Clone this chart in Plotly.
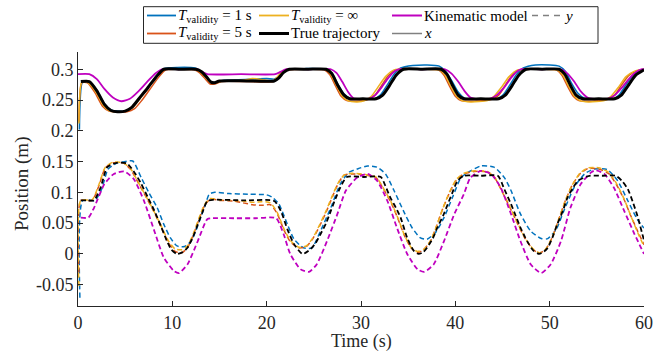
import plotly.graph_objects as go

# ---------------- DATA ----------------
# Upper group: x-component (solid lines)
t_true_x = [0.3, 1.2, 2.0, 2.8, 3.5, 4.2, 5.0, 5.7, 6.5, 7.4,
            8.3, 9.1, 10.8, 12.5, 13.1, 13.6, 14.1, 14.5, 15.0, 17.9,
            20.8, 21.3, 21.8, 22.4, 24.4, 26.3, 26.9, 27.5, 28.2, 28.8,
            30.2, 31.6, 32.3, 33.0, 33.7, 34.5, 36.5, 38.5, 39.1, 39.7,
            40.3, 40.9, 42.7, 44.6, 45.3, 46.0, 46.7, 47.5, 49.2, 51.0,
            51.6, 52.2, 52.8, 53.5, 55.2, 56.9, 57.6, 58.3, 59.1, 60.0]
x_true = [0.280, 0.280, 0.265, 0.243, 0.233, 0.231, 0.232, 0.238, 0.253, 0.270,
          0.288, 0.300, 0.300, 0.300, 0.296, 0.288, 0.279, 0.278, 0.281, 0.281,
          0.281, 0.286, 0.295, 0.300, 0.300, 0.300, 0.293, 0.275, 0.258, 0.252,
          0.252, 0.252, 0.258, 0.273, 0.290, 0.300, 0.300, 0.300, 0.292, 0.274,
          0.258, 0.252, 0.252, 0.252, 0.258, 0.273, 0.290, 0.300, 0.300, 0.300,
          0.292, 0.274, 0.258, 0.252, 0.252, 0.252, 0.258, 0.273, 0.290, 0.299]

t_1s_x = [0.15, 0.5, 1.2, 2.0, 2.8, 3.5, 4.2, 5.0, 5.7, 6.5,
          7.4, 8.3, 9.1, 10.5, 12.4, 13.0, 13.6, 14.1, 14.6, 15.5,
          17.0, 18.5, 20.0, 20.8, 21.3, 21.8, 22.4, 24.0, 26.3, 26.9,
          27.5, 28.2, 28.8, 30.1, 31.4, 32.1, 32.8, 33.5, 34.2, 35.5,
          37.0, 38.3, 38.9, 39.6, 40.3, 41.0, 42.7, 44.4, 45.1, 45.8,
          46.5, 47.2, 48.5, 50.0, 51.0, 51.7, 52.3, 53.0, 53.7, 55.2,
          56.7, 57.4, 58.1, 58.9, 60.0]
x_1s = [0.202, 0.280, 0.280, 0.266, 0.244, 0.234, 0.232, 0.232, 0.237, 0.252,
        0.270, 0.289, 0.301, 0.303, 0.302, 0.297, 0.289, 0.280, 0.279, 0.282,
        0.283, 0.284, 0.285, 0.284, 0.288, 0.296, 0.300, 0.301, 0.300, 0.294,
        0.277, 0.260, 0.253, 0.252, 0.252, 0.259, 0.275, 0.292, 0.302, 0.306,
        0.307, 0.305, 0.298, 0.282, 0.263, 0.253, 0.252, 0.252, 0.259, 0.275,
        0.292, 0.302, 0.307, 0.307, 0.305, 0.296, 0.278, 0.261, 0.253, 0.252,
        0.252, 0.259, 0.275, 0.291, 0.300]

t_5s_x = [0.1, 0.4, 1.0, 1.8, 2.6, 3.3, 4.2, 5.2, 6.0, 6.8,
          7.6, 8.5, 9.3, 10.8, 12.3, 12.9, 13.5, 14.0, 14.5, 15.2,
          18.0, 20.7, 21.2, 21.7, 22.3, 24.2, 26.1, 26.7, 27.3, 27.9,
          28.5, 29.5, 30.8, 31.5, 32.2, 32.9, 33.7, 36.0, 38.2, 38.8,
          39.4, 40.0, 40.6, 41.5, 43.9, 44.6, 45.3, 46.0, 46.8, 48.8,
          50.7, 51.3, 51.9, 52.5, 53.1, 54.0, 56.2, 56.9, 57.6, 58.4,
          59.2, 60.0]
x_5s = [0.215, 0.278, 0.278, 0.262, 0.240, 0.232, 0.231, 0.231, 0.236, 0.250,
        0.267, 0.286, 0.299, 0.300, 0.299, 0.294, 0.284, 0.276, 0.276, 0.280,
        0.280, 0.280, 0.286, 0.295, 0.299, 0.300, 0.299, 0.291, 0.273, 0.256,
        0.249, 0.248, 0.251, 0.258, 0.274, 0.290, 0.299, 0.300, 0.299, 0.290,
        0.272, 0.256, 0.249, 0.248, 0.251, 0.258, 0.274, 0.290, 0.299, 0.300,
        0.299, 0.290, 0.272, 0.256, 0.249, 0.248, 0.251, 0.258, 0.274, 0.290,
        0.297, 0.299]

t_inf_x = [0.1, 0.4, 1.0, 1.9, 2.7, 3.4, 4.2, 5.1, 5.8, 6.6,
           7.5, 8.4, 9.2, 10.8, 12.4, 13.0, 13.6, 14.1, 14.6, 15.3,
           17.5, 18.5, 19.5, 20.6, 21.1, 21.6, 22.2, 24.2, 26.2, 26.8,
           27.4, 28.0, 28.6, 29.6, 30.4, 31.1, 31.8, 32.6, 33.5, 35.9,
           38.3, 38.9, 39.5, 40.1, 40.7, 41.6, 43.4, 44.1, 44.9, 45.7,
           46.6, 48.7, 50.8, 51.4, 52.0, 52.6, 53.2, 54.1, 55.8, 56.5,
           57.3, 58.1, 59.0, 60.0]
x_inf = [0.212, 0.279, 0.279, 0.263, 0.241, 0.232, 0.231, 0.232, 0.238, 0.253,
         0.271, 0.289, 0.300, 0.300, 0.300, 0.295, 0.286, 0.278, 0.278, 0.281,
         0.282, 0.285, 0.283, 0.281, 0.287, 0.296, 0.300, 0.300, 0.300, 0.292,
         0.274, 0.257, 0.249, 0.247, 0.249, 0.256, 0.271, 0.288, 0.299, 0.300,
         0.299, 0.291, 0.273, 0.257, 0.249, 0.247, 0.249, 0.256, 0.271, 0.288,
         0.299, 0.300, 0.299, 0.291, 0.273, 0.257, 0.249, 0.247, 0.249, 0.256,
         0.271, 0.288, 0.297, 0.300]

t_kin_x = [0.0, 1.2, 2.0, 2.8, 3.7, 4.6, 5.5, 6.4, 7.3, 8.2,
           8.9, 10.7, 12.6, 13.1, 13.7, 17.3, 20.9, 21.5, 22.1, 24.4,
           26.8, 27.4, 28.0, 28.6, 29.2, 30.0, 30.8, 31.5, 32.2, 32.9,
           33.6, 34.1, 36.5, 38.9, 39.6, 40.3, 41.0, 41.6, 42.1, 42.9,
           43.6, 44.4, 45.2, 45.9, 46.5, 47.0, 49.1, 51.2, 51.9, 52.6,
           53.3, 54.0, 54.6, 55.4, 56.1, 56.9, 57.7, 58.5, 59.2, 59.8,
           60.0]
x_kin = [0.292, 0.292, 0.284, 0.268, 0.254, 0.248, 0.252, 0.264, 0.279, 0.293,
         0.300, 0.300, 0.300, 0.296, 0.292, 0.292, 0.292, 0.296, 0.300, 0.300,
         0.300, 0.294, 0.280, 0.264, 0.253, 0.252, 0.252, 0.258, 0.271, 0.286,
         0.297, 0.300, 0.300, 0.300, 0.293, 0.280, 0.264, 0.254, 0.252, 0.252,
         0.252, 0.258, 0.271, 0.286, 0.296, 0.300, 0.300, 0.300, 0.293, 0.280,
         0.264, 0.254, 0.252, 0.252, 0.252, 0.258, 0.271, 0.286, 0.296, 0.300,
         0.300]

# Lower group: y-component (dashed lines)
t_true_y = [0.3, 1.0, 1.7, 2.4, 3.1, 4.1, 5.2, 6.0, 6.7, 7.4,
            8.1, 8.8, 9.4, 9.9, 10.5, 11.1, 11.6, 12.2, 12.7, 13.2,
            13.7, 14.3, 17.5, 20.8, 21.5, 22.2, 22.9, 23.8, 24.6, 25.2,
            25.7, 26.3, 26.8, 27.3, 27.8, 28.5, 30.3, 32.1, 32.6, 33.1,
            33.7, 34.2, 34.9, 35.6, 36.1, 36.6, 37.0, 37.6, 38.1, 38.7,
            39.2, 39.7, 40.2, 40.9, 42.7, 44.5, 45.2, 45.9, 46.4, 46.9,
            47.4, 47.8, 48.3, 48.9, 49.4, 49.8, 50.3, 50.8, 51.4, 51.9,
            52.5, 53.0, 54.2, 55.6, 57.0, 57.7, 58.3, 58.8, 59.3, 60.0]
y_true = [0.087, 0.087, 0.087, 0.108, 0.141, 0.148, 0.147, 0.132, 0.114, 0.092,
          0.070, 0.045, 0.022, 0.007, 0.000, 0.003, 0.010, 0.028, 0.048, 0.068,
          0.086, 0.088, 0.087, 0.086, 0.070, 0.040, 0.016, 0.000, 0.007, 0.018,
          0.032, 0.050, 0.070, 0.090, 0.108, 0.125, 0.125, 0.125, 0.110, 0.092,
          0.075, 0.059, 0.026, 0.005, 0.000, 0.003, 0.010, 0.025, 0.043, 0.062,
          0.081, 0.100, 0.118, 0.127, 0.127, 0.127, 0.105, 0.081, 0.062, 0.043,
          0.027, 0.016, 0.005, 0.000, 0.004, 0.010, 0.027, 0.048, 0.070, 0.092,
          0.108, 0.119, 0.127, 0.127, 0.127, 0.118, 0.105, 0.085, 0.062, 0.022]

t_kin_y = [0.3, 1.1, 1.7, 2.8, 3.8, 4.9, 5.9, 7.0, 8.1, 9.1,
           10.2, 10.7, 11.6, 12.7, 13.7, 14.2, 16.5, 18.8, 21.0, 21.8,
           22.5, 23.6, 24.5, 25.3, 26.4, 27.5, 28.4, 29.6, 30.7, 31.7,
           32.8, 33.8, 34.9, 36.0, 36.7, 37.7, 38.8, 39.9, 40.9, 41.6,
           42.7, 43.8, 44.8, 45.9, 46.9, 48.0, 49.1, 50.1, 51.2, 52.2,
           53.3, 54.4, 54.9, 55.8, 56.8, 57.9, 59.0, 60.0]
y_kin = [0.059, 0.059, 0.075, 0.1135, 0.130, 0.134, 0.122, 0.086, 0.037, -0.006,
         -0.028, -0.031, -0.017, 0.021, 0.0565, 0.058, 0.058, 0.058, 0.058, 0.032,
         0.000, -0.025, -0.029, -0.017, 0.021, 0.065, 0.103, 0.124, 0.130, 0.119,
         0.086, 0.043, 0.000, -0.025, -0.029, -0.017, 0.021, 0.065, 0.097, 0.124,
         0.135, 0.130, 0.108, 0.065, 0.021, -0.017, -0.031, -0.017, 0.021, 0.075,
         0.1135, 0.1325, 0.136, 0.130, 0.108, 0.070, 0.032, 0.000]

t_1s_y = [0.2, 0.5, 1.8, 2.5, 3.2, 4.2, 5.0, 5.8, 6.7, 7.5,
          8.4, 9.1, 9.8, 10.5, 11.3, 12.0, 12.5, 13.0, 13.5, 13.9,
          14.4, 16.0, 18.0, 20.0, 20.6, 21.3, 22.2, 22.9, 23.9, 24.8,
          25.7, 26.8, 27.8, 28.7, 29.6, 30.7, 31.7, 32.6, 33.5, 34.5,
          35.4, 36.3, 37.0, 37.9, 38.8, 39.7, 40.6, 41.3, 42.7, 44.1,
          45.2, 45.9, 46.9, 48.0, 49.1, 49.8, 50.7, 51.5, 52.6, 53.7,
          54.7, 56.1, 57.2, 58.3, 59.3, 60.0]
y_1s = [-0.071, 0.087, 0.087, 0.105, 0.138, 0.148, 0.150, 0.151, 0.124, 0.100,
        0.075, 0.048, 0.026, 0.013, 0.012, 0.021, 0.038, 0.059, 0.080, 0.097,
        0.100, 0.098, 0.097, 0.096, 0.092, 0.081, 0.048, 0.024, 0.010, 0.010,
        0.037, 0.075, 0.1135, 0.1325, 0.138, 0.143, 0.141, 0.130, 0.103, 0.070,
        0.043, 0.026, 0.024, 0.035, 0.059, 0.092, 0.124, 0.132, 0.143, 0.141,
        0.124, 0.103, 0.065, 0.037, 0.025, 0.025, 0.040, 0.070, 0.108, 0.130,
        0.138, 0.137, 0.119, 0.086, 0.056, 0.042]

t_5s_y = [0.1, 0.3, 1.5, 2.2, 2.9, 3.7, 4.8, 5.6, 6.4, 7.2,
          8.0, 8.8, 9.6, 10.3, 11.0, 11.6, 12.2, 12.8, 13.4, 14.0,
          15.0, 16.5, 17.5, 18.5, 19.5, 20.4, 21.1, 21.8, 22.5, 23.4,
          24.2, 24.9, 25.6, 26.3, 27.0, 27.6, 28.2, 29.0, 30.5, 31.6,
          32.4, 33.2, 33.9, 34.6, 35.3, 36.0, 36.7, 37.4, 38.0, 38.7,
          39.4, 40.1, 40.9, 42.0, 43.4, 44.2, 45.0, 45.8, 46.6, 47.4,
          48.2, 48.9, 49.6, 50.3, 51.0, 51.7, 52.4, 53.2, 54.1, 55.2,
          56.3, 57.1, 57.9, 58.6, 59.3, 60.0]
y_5s = [-0.030, 0.087, 0.087, 0.110, 0.140, 0.148, 0.148, 0.137, 0.115, 0.093,
        0.070, 0.044, 0.018, 0.004, 0.002, 0.010, 0.030, 0.055, 0.078, 0.089,
        0.087, 0.086, 0.083, 0.080, 0.079, 0.080, 0.066, 0.040, 0.020, 0.010,
        0.012, 0.025, 0.045, 0.068, 0.094, 0.115, 0.128, 0.130, 0.128, 0.124,
        0.105, 0.083, 0.058, 0.030, 0.010, 0.002, 0.008, 0.022, 0.045, 0.075,
        0.100, 0.120, 0.130, 0.134, 0.133, 0.123, 0.100, 0.075, 0.049, 0.025,
        0.008, 0.001, 0.008, 0.028, 0.058, 0.088, 0.112, 0.130, 0.139, 0.138,
        0.130, 0.112, 0.088, 0.062, 0.038, 0.015]

t_inf_y = t_5s_y
y_inf = [-0.052, 0.087, 0.088, 0.112, 0.141, 0.149, 0.148, 0.138, 0.116, 0.094,
         0.071, 0.046, 0.021, 0.008, 0.007, 0.013, 0.032, 0.057, 0.080, 0.090,
         0.088, 0.087, 0.086, 0.084, 0.085, 0.083, 0.068, 0.042, 0.022, 0.011,
         0.013, 0.026, 0.047, 0.070, 0.096, 0.116, 0.128, 0.131, 0.129, 0.125,
         0.106, 0.084, 0.059, 0.031, 0.011, 0.004, 0.008, 0.022, 0.045, 0.075,
         0.101, 0.121, 0.131, 0.135, 0.134, 0.124, 0.101, 0.076, 0.050, 0.026,
         0.009, 0.002, 0.008, 0.028, 0.058, 0.088, 0.112, 0.131, 0.140, 0.140,
         0.132, 0.114, 0.089, 0.062, 0.036, 0.012]

# Axis ticks
x_ticks = [0, 10, 20, 30, 40, 50, 60]
y_ticks = [-0.05, 0, 0.05, 0.1, 0.15, 0.2, 0.25, 0.3]
y_tick_text = ["-0.05", "0", "0.05", "0.1", "0.15", "0.2", "0.25", "0.3"]

# ---------------- STYLE ----------------
C_BLUE = "#0072BD"
C_ORANGE = "#D95319"
C_YELLOW = "#EDB120"
C_MAG = "#BF00BF"
C_BLACK = "#000000"
C_GRAY = "#808080"
AX = "#262626"
FONT = "Liberation Serif, Times New Roman, serif"

W, H = 670, 353
L, R, T, B = 78, 26, 52, 47
PW, PH = W - L - R, H - T - B


def px(xp):
    return (xp - L) / PW


def py(yp):
    return (H - B - yp) / PH


fig = go.Figure()

DASH = "5px,3px"
series = [
    (t_1s_x, x_1s, C_BLUE, 1.5, "solid"),
    (t_5s_x, x_5s, C_ORANGE, 1.5, "solid"),
    (t_inf_x, x_inf, C_YELLOW, 1.5, "solid"),
    (t_kin_x, x_kin, C_MAG, 1.8, "solid"),
    (t_true_x, x_true, C_BLACK, 3.0, "solid"),
    (t_1s_y, y_1s, C_BLUE, 1.5, DASH),
    (t_5s_y, y_5s, C_ORANGE, 1.5, DASH),
    (t_inf_y, y_inf, C_YELLOW, 1.5, DASH),
    (t_kin_y, y_kin, C_MAG, 1.8, DASH),
    (t_true_y, y_true, C_BLACK, 1.8, DASH),
]
for tt, vv, col, w, dash in series:
    fig.add_trace(go.Scatter(
        x=tt, y=vv, mode="lines",
        line=dict(color=col, width=w, dash=dash, shape="spline", smoothing=0.6),
        showlegend=False, hoverinfo="skip"))

# ---------------- LEGEND (drawn) ----------------
shapes = []
annots = []
shapes.append(dict(type="rect", xref="paper", yref="paper",
                   x0=px(143.5), x1=px(598), y0=py(43.3), y1=py(6.7),
                   line=dict(color="#262626", width=1), fillcolor="white",
                   layer="above"))

legend_items = [
    # (line x0, line x1, row y, color, dash, width, text)
    (147, 176, 15.5, C_BLUE, "solid", 1.8, "<i>T</i><sub>validity</sub> = 1 s"),
    (259, 289, 15.5, C_YELLOW, "solid", 1.8, "<i>T</i><sub>validity</sub> = ∞"),
    (392, 422, 15.5, C_MAG, "solid", 2.0, "Kinematic model"),
    (532, 562, 15.5, C_GRAY, "6px,5px", 1.5, "<i>y</i>"),
    (147, 176, 33.5, C_ORANGE, "solid", 1.8, "<i>T</i><sub>validity</sub> = 5 s"),
    (259, 289, 33.5, C_BLACK, "solid", 3.0, "True trajectory"),
    (392, 422, 33.5, C_GRAY, "solid", 1.5, "<i>x</i>"),
]
for x0, x1, yy, col, dash, w, txt in legend_items:
    shapes.append(dict(type="line", xref="paper", yref="paper",
                       x0=px(x0), x1=px(x1), y0=py(yy), y1=py(yy),
                       line=dict(color=col, width=w, dash=dash), layer="above"))
    annots.append(dict(xref="paper", yref="paper", x=px(x1 + 1), y=py(yy),
                       text=txt, showarrow=False, xanchor="left", yanchor="middle",
                       borderpad=0,
                       font=dict(family=FONT, size=15, color="#000000")))

# Axis titles as annotations for exact placement
annots.append(dict(xref="paper", yref="paper", x=px(361), y=py(341),
                   text="Time (s)", showarrow=False, xanchor="center",
                   yanchor="middle",
                   font=dict(family=FONT, size=18, color=AX)))
annots.append(dict(xref="paper", yref="paper", x=px(22), y=py(184),
                   text="Position (m)", showarrow=False, xanchor="center",
                   yanchor="middle", textangle=-90,
                   font=dict(family=FONT, size=19, color=AX)))

fig.update_layout(
    width=W, height=H,
    margin=dict(l=L, r=R, t=T, b=B),
    paper_bgcolor="white", plot_bgcolor="white",
    font=dict(family=FONT, size=18, color=AX),
    shapes=shapes, annotations=annots,
    xaxis=dict(range=[0, 60], tickvals=x_ticks, ticks="inside", ticklen=5,
               tickcolor=AX, showline=True, linecolor=AX, linewidth=1,
               showgrid=False, zeroline=False, mirror=False,
               tickfont=dict(family=FONT, size=18, color=AX)),
    yaxis=dict(range=[-0.0845, 0.328], tickvals=y_ticks, ticktext=y_tick_text,
               ticks="inside", ticklen=5, tickcolor=AX, showline=True,
               linecolor=AX, linewidth=1, showgrid=False, zeroline=False,
               mirror=False, tickfont=dict(family=FONT, size=18, color=AX)),
)

fig.write_html(
    "out.html",
    config={"displayModeBar": False},
    post_script="document.body.style.margin='0';document.body.style.padding='0';",
)
